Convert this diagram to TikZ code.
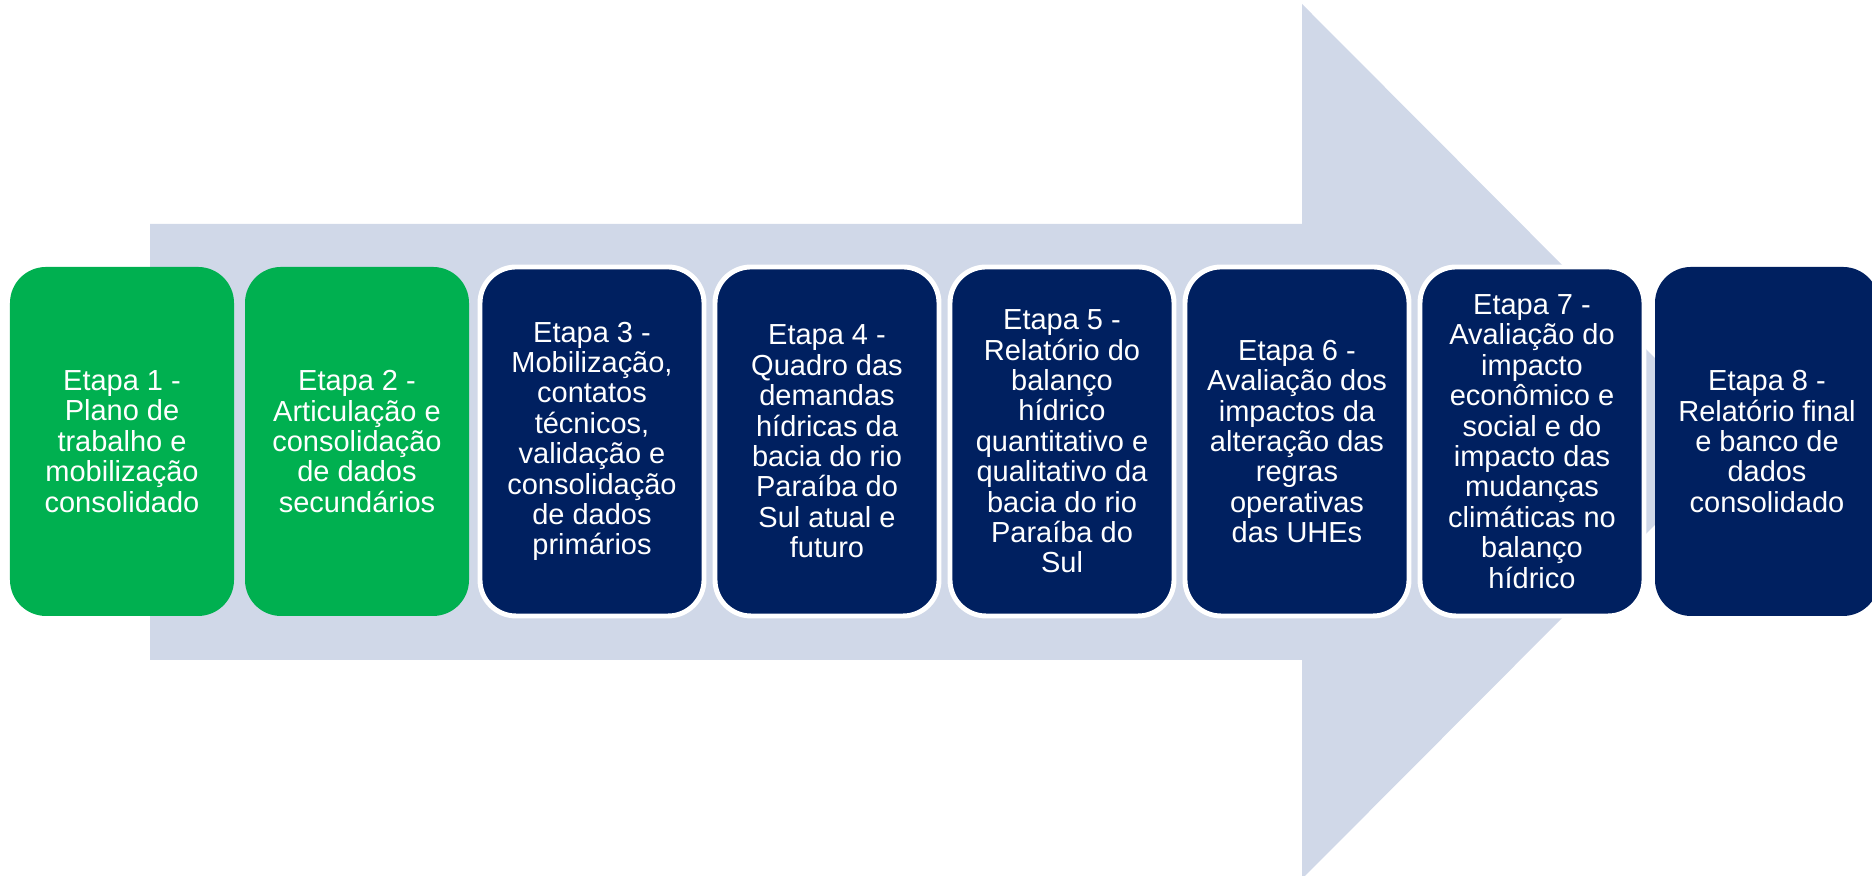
\documentclass[tikz,border=0pt]{standalone}
\usepackage{fontspec}
\setmainfont{Liberation Sans}
\definecolor{etapagreen}{RGB}{0,176,80}
\definecolor{etapanavy}{RGB}{0,32,96}
\definecolor{arrowgrey}{RGB}{208,216,232}
\usetikzlibrary{positioning}

\begin{document}
\begin{tikzpicture}[
    etapa/.style={rounded corners=0.36cm, minimum width=2.24cm, minimum height=3.49cm,
                  inner sep=0pt, outer sep=0pt, align=center, text=white,
                  font=\fontsize{8.25}{8.65}\selectfont},
    feita/.style={etapa, fill=etapagreen},
    andamento/.style={etapa, fill=etapanavy, draw=white, line width=1.4pt},
    final/.style={etapa, fill=etapanavy},
    node distance=0.11cm
  ]
  \useasboundingbox (0,0) rectangle (18.72,8.76);
  \clip (0,0) rectangle (18.72,8.76);
  % seta larga por tras das etapas
  \fill[arrowgrey] (1.50,2.16) -- (1.50,6.52) -- (13.02,6.52) -- (13.02,8.72)
    -- (17.38,4.345) -- (13.02,-0.03) -- (13.02,2.16) -- cycle;
  % etapas
  \node[feita] (e1) at (1.22,4.345) {Etapa 1 -\\Plano de\\trabalho e\\mobilização\\consolidado};
  \node[feita, right=of e1] (e2) {Etapa 2 -\\Articulação e\\consolidação\\de dados\\secundários};
  \node[andamento, right=of e2] (e3) {Etapa 3 -\\Mobilização,\\contatos\\técnicos,\\validação e\\consolidação\\de dados\\primários};
  \node[andamento, right=of e3] (e4) {Etapa 4 -\\Quadro das\\demandas\\hídricas da\\bacia do rio\\Paraíba do\\Sul atual e\\futuro};
  \node[andamento, right=of e4] (e5) {Etapa 5 -\\Relatório do\\balanço\\hídrico\\quantitativo e\\qualitativo da\\bacia do rio\\Paraíba do\\Sul};
  \node[andamento, right=of e5] (e6) {Etapa 6 -\\Avaliação dos\\impactos da\\alteração das\\regras\\operativas\\das UHEs};
  \node[andamento, right=of e6] (e7) {Etapa 7 -\\Avaliação do\\impacto\\econômico e\\social e do\\impacto das\\mudanças\\climáticas no\\balanço\\hídrico};
  \node[final, right=of e7] (e8) {Etapa 8 -\\Relatório final\\e banco de\\dados\\consolidado};
\end{tikzpicture}
\end{document}
